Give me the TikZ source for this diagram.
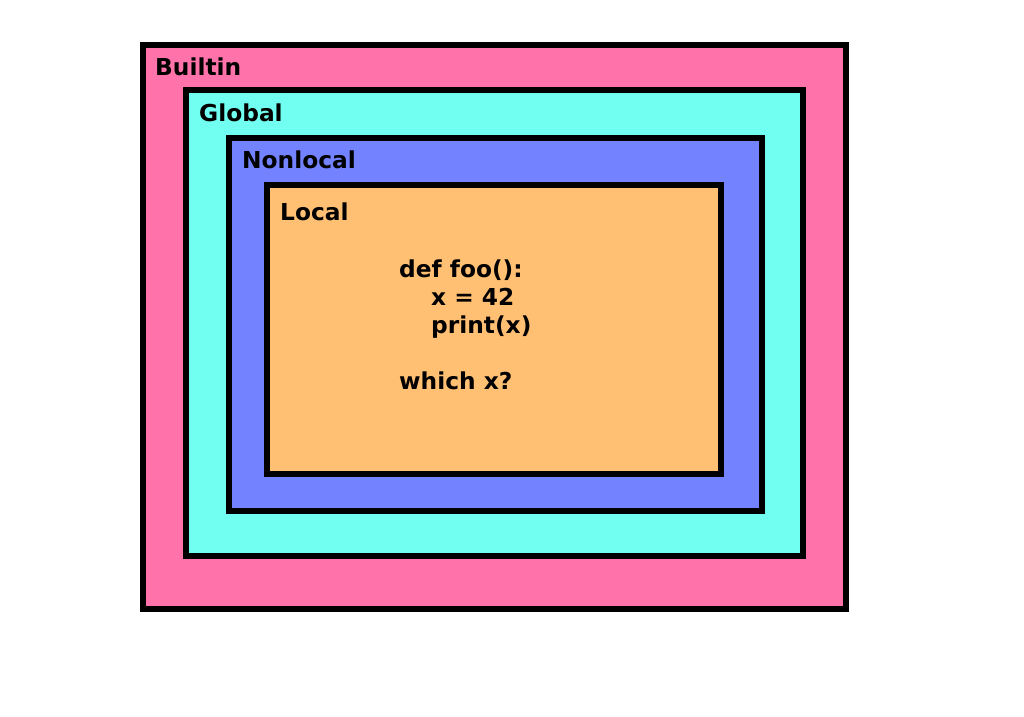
\documentclass[tikz,border=0pt]{standalone}
\usepackage{fontspec}
\setmainfont{DejaVu Sans}
\definecolor{cbuiltin}{RGB}{255,115,170}
\definecolor{cglobal}{RGB}{112,255,240}
\definecolor{cnonlocal}{RGB}{115,130,255}
\definecolor{clocal}{RGB}{255,192,115}
\begin{document}
\begin{tikzpicture}[x=1pt,y=-1pt,
  scopebox/.style={line width=6pt,draw=black},
  lbl/.style={anchor=base west,inner sep=0pt,font=\fontsize{23.3}{28}\selectfont\bfseries}]
\useasboundingbox (0,0) rectangle (1024,716);
\filldraw[scopebox,fill=cbuiltin] (143,45) rectangle (846,609);
\filldraw[scopebox,fill=cglobal] (186,90) rectangle (803,556);
\filldraw[scopebox,fill=cnonlocal] (229,138) rectangle (762,511);
\filldraw[scopebox,fill=clocal] (267,185) rectangle (721,474);
\node[lbl] (builtin) at (155,75) {Builtin};
\node[lbl] (global) at (199,121) {Global};
\node[lbl] (nonlocal) at (242,168) {Nonlocal};
\node[lbl] (local) at (280,220) {Local};
\node[lbl] (l1) at (399,277) {def foo():};
\node[lbl] (l2) at (431,305) {x = 42};
\node[lbl] (l3) at (431,333) {print(x)};
\node[lbl] (l4) at (399,389) {which x?};
\end{tikzpicture}
\end{document}
